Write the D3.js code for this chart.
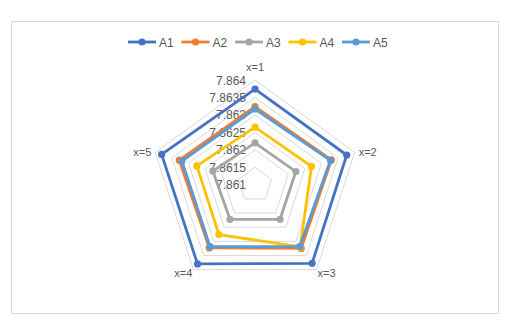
<!DOCTYPE html>
<html>
<head>
<meta charset="utf-8">
<script src="https://cdn.jsdelivr.net/npm/d3@7"></script>
<style>
  body { margin: 0; background: #fff; }
  text { font-family: "Liberation Sans", "DejaVu Sans", sans-serif; fill: #595959; }
</style>
</head>
<body>
<div id="vis"></div>
<script>
const categories = ["x=1", "x=2", "x=3", "x=4", "x=5"];
const seriesNames = ["A1", "A2", "A3", "A4", "A5"];
const colors = ["#4472C4", "#ED7D31", "#A5A5A5", "#FFC000", "#5B9BD5"];
const A1 = [7.86374, 7.86376, 7.86378, 7.86380, 7.86381];
const A2 = [7.86324, 7.86330, 7.86325, 7.86323, 7.86328];
const A3 = [7.86220, 7.86223, 7.86222, 7.86222, 7.86227];
const A4 = [7.86265, 7.86270, 7.86320, 7.86276, 7.86275];
const A5 = [7.86317, 7.86327, 7.86318, 7.86319, 7.86320];
const tickValues = [7.861, 7.8615, 7.862, 7.8625, 7.863, 7.8635, 7.864];

const WIDTH = 514, HEIGHT = 323;
const CX = 255, CY = 184.8, R = 104.8;

const series = [A1, A2, A3, A4, A5];

const rScale = d3.scaleLinear([7.861, 7.864], [0, R]);
const angle = d3.scalePoint(d3.range(categories.length + 1), [0, 2 * Math.PI]);

function pt(i, v) {
  const a = angle(i);
  const r = rScale(v);
  return [CX + r * Math.sin(a), CY - r * Math.cos(a)];
}

const svg = d3.select("#vis").append("svg")
  .attr("width", WIDTH).attr("height", HEIGHT);

svg.append("rect")
  .attr("x", 11.5).attr("y", 21.5).attr("width", 487).attr("height", 292)
  .attr("fill", "#fff").attr("stroke", "#d9d9d9");

// grid pentagons
svg.append("g").selectAll("polygon")
  .data(tickValues.slice(1))
  .join("polygon")
    .attr("points", t => categories.map((c, i) => pt(i, t).join(",")).join(" "))
    .attr("fill", "none")
    .attr("stroke", "#d9d9d9")
    .attr("stroke-width", 1);

// tick labels
svg.append("g").selectAll("text")
  .data(tickValues)
  .join("text")
    .attr("x", CX - 9)
    .attr("y", t => CY - rScale(t) + 4.5)
    .attr("text-anchor", "end")
    .attr("font-size", 12)
    .text(t => t);

// category labels
const labelPos = [
  { dx: 0, dy: -9, anchor: "middle" },
  { dx: 4, dy: 4, anchor: "start" },
  { dx: 1, dy: 7, anchor: "start" },
  { dx: -1, dy: 7, anchor: "end" },
  { dx: -4, dy: 4, anchor: "end" }
];
svg.append("g").selectAll("text")
  .data(categories)
  .join("text")
    .attr("x", (d, i) => pt(i, 7.864)[0] + labelPos[i].dx)
    .attr("y", (d, i) => pt(i, 7.864)[1] + labelPos[i].dy)
    .attr("text-anchor", (d, i) => labelPos[i].anchor)
    .attr("font-size", 11)
    .text(d => d);

// series
const line = d3.line().curve(d3.curveLinearClosed);
series.forEach((vals, s) => {
  const g = svg.append("g");
  g.append("path")
    .attr("d", line(vals.map((v, i) => pt(i, v))))
    .attr("fill", "none")
    .attr("stroke", colors[s])
    .attr("stroke-width", 2.8)
    .attr("stroke-linejoin", "round");
  g.selectAll("circle")
    .data(vals)
    .join("circle")
      .attr("cx", (v, i) => pt(i, v)[0])
      .attr("cy", (v, i) => pt(i, v)[1])
      .attr("r", 3.6)
      .attr("fill", colors[s]);
});

// legend
const legend = svg.append("g").selectAll("g")
  .data(seriesNames)
  .join("g")
    .attr("transform", (d, i) => `translate(${128 + i * 53.5}, 42)`);
legend.append("line")
  .attr("x1", 0).attr("x2", 28).attr("y1", 0).attr("y2", 0)
  .attr("stroke", (d, i) => colors[i]).attr("stroke-width", 2.8);
legend.append("circle")
  .attr("cx", 14).attr("cy", 0).attr("r", 3.6)
  .attr("fill", (d, i) => colors[i]);
legend.append("text")
  .attr("x", 31).attr("y", 4.5)
  .attr("font-size", 12)
  .text(d => d);
</script>
</body>
</html>
